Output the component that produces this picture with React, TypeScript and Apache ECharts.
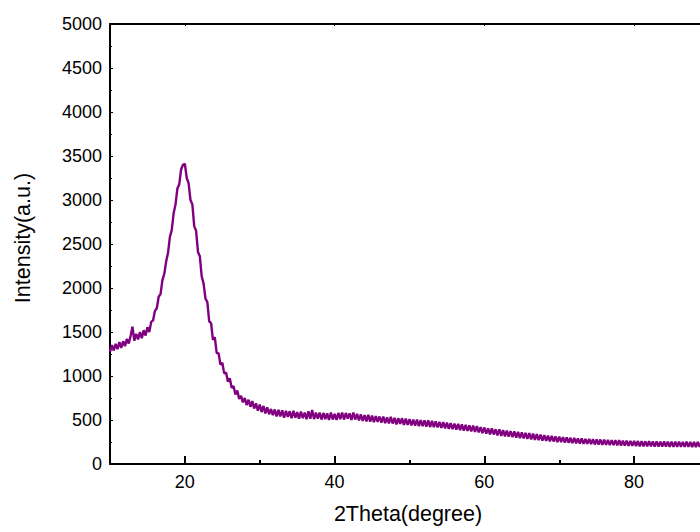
import React, { useEffect, useRef } from "react";
import * as echarts from "echarts";

// 2θ sampling grid (degrees) of the scan
const startAngle = 10;
const stepAngle = 0.25;

// Intensity (a.u.), one row per degree (4 samples each)
const intensity: number[] = [
  1275, 1350, 1290, 1365, // 10
  1305, 1385, 1320, 1395, // 11
  1340, 1420, 1370, 1455, // 12
  1560, 1400, 1480, 1415, // 13
  1500, 1430, 1520, 1460, // 14
  1555, 1500, 1615, 1630, // 15
  1740, 1770, 1900, 1930, // 16
  2090, 2160, 2300, 2400, // 17
  2580, 2660, 2850, 2950, // 18
  3130, 3180, 3350, 3400, // 19
  3410, 3250, 3190, 3000, // 20
  2950, 2700, 2650, 2410, // 21
  2360, 2130, 2050, 1880, // 22
  1840, 1620, 1600, 1410, // 23
  1440, 1260, 1260, 1130, // 24
  1150, 1030, 1040, 935, // 25
  975, 865, 885, 790, // 26
  835, 740, 775, 700, // 27
  750, 670, 730, 650, // 28
  715, 630, 690, 605, // 29
  675, 590, 660, 575, // 30
  645, 565, 625, 555, // 31
  620, 540, 615, 540, // 32
  610, 525, 605, 535, // 33
  600, 520, 605, 525, // 34
  590, 515, 595, 520, // 35
  585, 510, 600, 515, // 36
  615, 510, 585, 515, // 37
  585, 505, 580, 510, // 38
  575, 500, 585, 505, // 39
  570, 500, 580, 510, // 40
  585, 505, 580, 515, // 41
  575, 500, 585, 505, // 42
  570, 495, 565, 490, // 43
  555, 485, 560, 480, // 44
  550, 475, 545, 480, // 45
  540, 470, 540, 465, // 46
  530, 460, 535, 460, // 47
  525, 450, 520, 455, // 48
  520, 445, 515, 445, // 49
  510, 440, 505, 435, // 50
  505, 430, 500, 430, // 51
  495, 425, 495, 420, // 52
  490, 420, 485, 415, // 53
  480, 410, 475, 405, // 54
  470, 400, 465, 395, // 55
  460, 390, 455, 385, // 56
  450, 380, 445, 375, // 57
  440, 370, 435, 365, // 58
  430, 360, 420, 350, // 59
  415, 345, 405, 335, // 60
  405, 335, 395, 325, // 61
  395, 320, 385, 315, // 62
  380, 310, 375, 305, // 63
  370, 300, 365, 295, // 64
  360, 290, 355, 285, // 65
  350, 280, 345, 275, // 66
  340, 270, 335, 265, // 67
  328, 262, 322, 258, // 68
  320, 256, 314, 250, // 69
  310, 250, 305, 244, // 70
  302, 242, 298, 238, // 71
  296, 236, 292, 232, // 72
  290, 230, 286, 228, // 73
  284, 226, 282, 222, // 74
  280, 220, 278, 218, // 75
  276, 217, 274, 215, // 76
  272, 214, 270, 212, // 77
  270, 210, 266, 208, // 78
  266, 207, 263, 205, // 79
  263, 204, 261, 202, // 80
  261, 202, 258, 200, // 81
  259, 200, 256, 198, // 82
  257, 198, 255, 197, // 83
  256, 197, 254, 196, // 84
  255, 196, 253, 195, // 85
  254, 195, 252, 194, // 86
  253, 194, 251, 193, // 87
  252, 193, 251, 194, // 88
  252, 192, 250, 193, // 89
  221, // 90
];

const xMajorTicks = [20, 40, 60, 80];
const xMinorTicks = [30, 50, 70];
const xTitle = "2Theta(degree)";
const yTitle = "Intensity(a.u.)";

const FONT = "Liberation Sans, Arial, sans-serif";

export default function App() {
  const ref = useRef<HTMLDivElement>(null);
  useEffect(() => {
    if (!ref.current) return;
    const chart = echarts.init(ref.current, undefined, { renderer: "svg" });
    const data = intensity.map((v, i) => [startAngle + i * stepAngle, v]);
    const axisLine = { show: true, lineStyle: { color: "#000", width: 2 } };
    chart.setOption({
      animation: false,
      backgroundColor: "#fff",
      textStyle: { fontFamily: FONT },
      grid: {
        left: 110,
        top: 24,
        right: -9,
        bottom: 68,
        containLabel: false,
        outerBoundsMode: "none",
      },
      xAxis: [
        {
          type: "value",
          position: "bottom",
          min: 10,
          max: 90,
          axisLine,
          splitLine: { show: false },
          axisTick: {
            show: true,
            inside: true,
            length: 8,
            customValues: xMajorTicks,
            lineStyle: { color: "#000", width: 2 },
          },
          axisLabel: {
            customValues: xMajorTicks,
            color: "#000",
            fontSize: 18,
            fontFamily: FONT,
            margin: 9,
          },
        },
        {
          type: "value",
          position: "bottom",
          min: 10,
          max: 90,
          axisLine: { show: false },
          splitLine: { show: false },
          axisTick: {
            show: true,
            inside: true,
            length: 4,
            customValues: xMinorTicks,
            lineStyle: { color: "#000", width: 2 },
          },
          axisLabel: { show: false },
        },
        {
          type: "value",
          position: "top",
          min: 10,
          max: 90,
          axisLine,
          splitLine: { show: false },
          axisTick: {
            show: true,
            inside: true,
            length: 2,
            customValues: xMajorTicks,
            lineStyle: { color: "#000", width: 1 },
          },
          axisLabel: { show: false },
        },
      ],
      yAxis: {
        type: "value",
        min: 0,
        max: 5000,
        interval: 500,
        axisLine,
        splitLine: { show: false },
        axisTick: {
          show: true,
          inside: true,
          length: 3,
          lineStyle: { color: "#000", width: 1 },
        },
        minorTick: {
          show: true,
          splitNumber: 2,
          length: 2,
          lineStyle: { color: "#000", width: 1 },
        },
        axisLabel: {
          color: "#000",
          fontSize: 18,
          fontFamily: FONT,
          margin: 8,
          formatter: (v: number) => String(v),
        },
      },
      graphic: [
        {
          type: "text",
          x: 408,
          y: 514,
          style: {
            text: xTitle,
            fill: "#000",
            font: `21.5px ${FONT}`,
            textAlign: "center",
            textVerticalAlign: "middle",
          },
        },
        {
          type: "text",
          x: 22.5,
          y: 238,
          rotation: Math.PI / 2,
          style: {
            text: yTitle,
            fill: "#000",
            font: `21.5px ${FONT}`,
            textAlign: "center",
            textVerticalAlign: "middle",
          },
        },
      ],
      series: [
        {
          type: "line",
          xAxisIndex: 0,
          data,
          showSymbol: false,
          symbol: "none",
          lineStyle: { color: "#800080", width: 2.4, join: "bevel" },
        },
      ],
    });
    return () => chart.dispose();
  }, []);
  return (
    <div
      ref={ref}
      style={{ position: "fixed", left: 0, top: 0, width: 700, height: 532 }}
    />
  );
}
